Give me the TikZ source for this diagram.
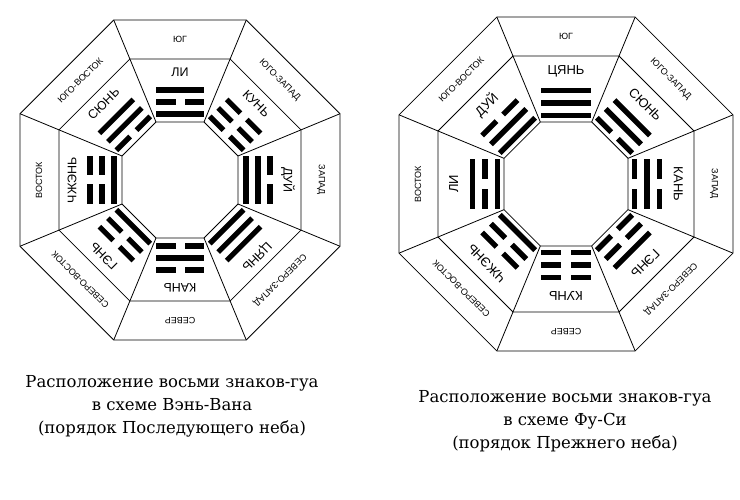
\documentclass[tikz,border=0pt]{standalone}
\usepackage{fontspec}
\setmainfont{DejaVu Serif}
\newfontfamily\lblfont{Liberation Sans}
\newcommand\tline[2]{\ifnum#1=1 \fill (-24,#2-2.6) rectangle (24,#2+2.6);\else\fill (-24,#2-2.6) rectangle (-4.5,#2+2.6);\fill (4.5,#2-2.6) rectangle (24,#2+2.6);\fi}
\newcommand\trig[5]{\begin{scope}[rotate=#1-90]\tline{#2}{66}\tline{#3}{78}\tline{#4}{90}
\node[namelbl] (#5) at (0,108) {#5};\end{scope}}
\newcommand\dirl[3]{\begin{scope}[rotate=#1-90]\node[dirlbl] (#3) at (0,#2) {#3};\end{scope}}
\newcommand\octa[3]{\draw[ring] (22.5:#1/0.92388) \foreach \k in {1,...,7}{ -- (22.5+45*\k:#1/0.92388)} -- cycle;
\draw[ring] (22.5:#2/0.92388) \foreach \k in {1,...,7}{ -- (22.5+45*\k:#2/0.92388)} -- cycle;
\draw[ring] (22.5:#3/0.92388) \foreach \k in {1,...,7}{ -- (22.5+45*\k:#3/0.92388)} -- cycle;
\foreach \k in {0,...,7}{\draw[ring] (22.5+45*\k:#3/0.92388) -- (22.5+45*\k:#1/0.92388);}}
\begin{document}
\begin{tikzpicture}[x=1pt,y=1pt,
 ring/.style={line width=0.8pt},
 namelbl/.style={font=\lblfont\fontsize{12.5}{13}\selectfont,inner sep=0pt,transform shape},
 dirlbl/.style={font=\lblfont\fontsize{9}{10}\selectfont,inner sep=0pt,transform shape},
 captext/.style={font=\fontsize{16.5}{23}\selectfont,align=center,inner sep=0pt}]
\useasboundingbox (0,0) rectangle (740,500);
% left
\begin{scope}[shift={(180,320)}]
\octa{160}{121}{58}
\trig{90}{1}{0}{1}{ЛИ}
\trig{135}{0}{1}{1}{СЮНЬ}
\trig{45}{0}{0}{0}{КУНЬ}
\trig{180}{1}{0}{0}{ЧЖЭНЬ}
\trig{0}{1}{1}{0}{ДУЙ}
\trig{-45}{1}{1}{1}{ЦЯНЬ}
\trig{-90}{0}{1}{0}{КАНЬ}
\trig{-135}{1}{0}{0}{ГЭНЬ}
\dirl{90}{141}{ЮГ}
\dirl{135}{141}{ЮГО-ВОСТОК}
\dirl{45}{141}{ЮГО-ЗАПАД}
\dirl{180}{141}{ВОСТОК}
\dirl{0}{141}{ЗАПАД}
\dirl{-45}{141}{СЕВЕРО-ЗАПАД}
\dirl{-90}{141}{СЕВЕР}
\dirl{-135}{141}{СЕВЕРО-ВОСТОК}
\end{scope}
% right
\begin{scope}[shift={(566,316)}]
\octa{167}{128}{62}
\begin{scope}[scale=1.04]
\trig{90}{1}{1}{1}{ЦЯНЬ}
\trig{135}{1}{1}{0}{ДУЙ}
\trig{45}{0}{1}{1}{СЮНЬ}
\trig{180}{1}{0}{1}{ЛИ}
\trig{0}{0}{1}{0}{КАНЬ}
\trig{-45}{0}{0}{1}{ГЭНЬ}
\trig{-90}{0}{0}{0}{КУНЬ}
\trig{-135}{1}{0}{0}{ЧЖЭНЬ}
\end{scope}
\dirl{90}{148}{ЮГ}
\dirl{135}{148}{ЮГО-ВОСТОК}
\dirl{45}{148}{ЮГО-ЗАПАД}
\dirl{180}{148}{ВОСТОК}
\dirl{0}{148}{ЗАПАД}
\dirl{-45}{148}{СЕВЕРО-ЗАПАД}
\dirl{-90}{148}{СЕВЕР}
\dirl{-135}{148}{СЕВЕРО-ВОСТОК}
\end{scope}
\node[captext] (capL) at (172,94) {Расположение восьми знаков-гуа\\в схеме Вэнь-Вана\\(порядок Последующего неба)};
\node[captext] (capR) at (565,79) {Расположение восьми знаков-гуа\\в схеме Фу-Си\\(порядок Прежнего неба)};
\end{tikzpicture}
\end{document}
